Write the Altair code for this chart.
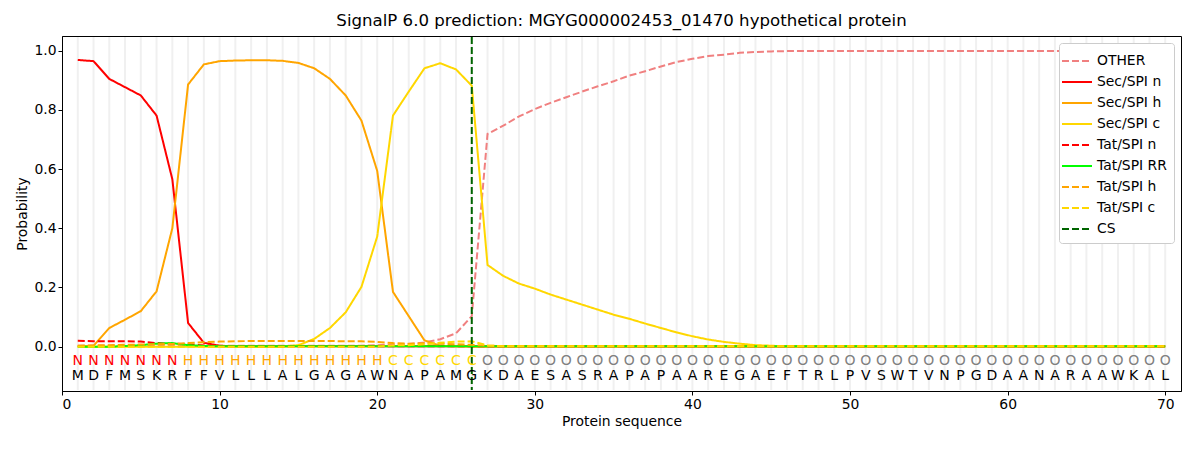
import altair as alt
import pandas as pd

residues = list("MDFMSKRFFVLLLALGAGAWNAPAMGKDAESASRAPAPAAREGAEFTRLPVSWTVNPGDAANARAAWKAL")
labels = list("NNNNNNN" + "HHHHHHHHHHHHH" + "CCCCCC" + "O" * 44)
positions = list(range(1, 71))

sec_n = [0.969, 0.965, 0.905, 0.877, 0.849, 0.781, 0.566, 0.080, 0.013, 0.003] + [0.001] * 60
sec_h = [0.001, 0.003, 0.063, 0.091, 0.120, 0.187, 0.400, 0.886, 0.954, 0.965,
         0.967, 0.968, 0.968, 0.966, 0.959, 0.941, 0.905, 0.849, 0.764, 0.594,
         0.185, 0.103, 0.021, 0.003, 0.001] + [0.0] * 45
sec_c = [0.0] * 14 + [0.005, 0.026, 0.063, 0.116, 0.202, 0.372,
         0.781, 0.862, 0.941, 0.958, 0.937, 0.882, 0.276, 0.239, 0.213, 0.196,
         0.176, 0.159, 0.142, 0.125, 0.108, 0.094, 0.078, 0.063, 0.048, 0.035,
         0.024, 0.016, 0.010, 0.005, 0.003] + [0.001] * 25
other = [0.003] * 19 + [0.005, 0.007, 0.009, 0.014, 0.025, 0.045, 0.103,
         0.719, 0.747, 0.778, 0.803, 0.824, 0.843, 0.862, 0.880, 0.897, 0.916,
         0.931, 0.947, 0.962, 0.973, 0.982, 0.987, 0.993, 0.996, 0.998] + [0.999] * 25
tat_n = [0.020, 0.018, 0.018, 0.018, 0.017, 0.012, 0.010, 0.008, 0.004, 0.002] + [0.001] * 60
tat_rr = [0.0, 0.0, 0.0, 0.002, 0.005, 0.010, 0.012, 0.005, 0.002] + [0.001] * 61
tat_h = [0.003, 0.004, 0.005, 0.006, 0.007, 0.008, 0.009, 0.012, 0.015, 0.017,
         0.018, 0.019, 0.019, 0.019, 0.019, 0.019, 0.019, 0.018, 0.018, 0.016,
         0.012, 0.010, 0.011, 0.010, 0.008, 0.006, 0.003] + [0.002] * 43
tat_c = [0.0] * 20 + [0.004, 0.005, 0.008, 0.013, 0.017, 0.018, 0.004] + [0.001] * 43

series_names = ["OTHER", "Sec/SPI n", "Sec/SPI h", "Sec/SPI c", "Tat/SPI n",
                "Tat/SPI RR", "Tat/SPI h", "Tat/SPI c", "CS"]
series_colors = ["#F08080", "#FF0000", "#FFA500", "#FFD700", "#FF0000",
                 "#00FF00", "#FFA500", "#FFD700", "#006400"]
series_dashes = [[7, 3], [1, 0], [1, 0], [1, 0], [7, 3], [1, 0], [7, 3], [7, 3], [7, 3]]
series_values = [other, sec_n, sec_h, sec_c, tat_n, tat_rr, tat_h, tat_c]
cs_position = 26

label_colors = {"N": "#FF0000", "H": "#FFA500", "C": "#FFD700", "O": "#808080"}

rows = []
for name, vals in zip(series_names[:8], series_values):
    for p, v in zip(positions, vals):
        rows.append({"pos": p, "prob": v, "series": name})
df = pd.DataFrame(rows)

seq_df = pd.DataFrame({
    "pos": positions,
    "res": residues,
    "lab": labels,
    "labcolor": [label_colors[l] for l in labels],
    "ylab": [-0.047] * 70,
    "yres": [-0.10] * 70,
})
cs_df = pd.DataFrame({"pos": [cs_position], "series": ["CS"]})

xscale = alt.Scale(domain=[0, 71], nice=False, zero=False)
yscale = alt.Scale(domain=[-0.15, 1.05], nice=False, zero=False)
color_scale = alt.Scale(domain=series_names, range=series_colors)
dash_scale = alt.Scale(domain=series_names, range=series_dashes)

legend = alt.Legend(title=None, orient="top-right", symbolType="M-1.5,0L1.5,0",
                    symbolStrokeWidth=2, symbolSize=400, labelFontSize=13.9,
                    labelFont="DejaVu Sans", labelColor="black",
                    strokeColor="#cccccc", fillColor="white",
                    padding=7, cornerRadius=3, rowPadding=3, offset=7, labelLimit=200,
                    labelOffset=9)

grid = alt.Chart(seq_df).mark_rule(color="#f0f0f0", strokeWidth=2).encode(
    x=alt.X("pos:Q", scale=xscale),
    y=alt.value(1),
    y2=alt.value(354),
)

lines = alt.Chart(df).mark_line(strokeWidth=2).encode(
    x=alt.X("pos:Q", scale=xscale,
            axis=alt.Axis(title="Protein sequence", values=list(range(0, 71, 10)))),
    y=alt.Y("prob:Q", scale=yscale,
            axis=alt.Axis(title="Probability", values=[0.0, 0.2, 0.4, 0.6, 0.8, 1.0], format=".1f")),
    color=alt.Color("series:N", scale=color_scale, sort=series_names, legend=legend),
    strokeDash=alt.StrokeDash("series:N", scale=dash_scale, sort=series_names, legend=legend),
    detail="series:N",
    order=alt.Order("pos:Q"),
)

cs_rule = alt.Chart(cs_df).mark_rule(strokeWidth=2).encode(
    x=alt.X("pos:Q", scale=xscale),
    y=alt.value(1),
    y2=alt.value(354),
    color=alt.Color("series:N", scale=color_scale, sort=series_names, legend=legend),
    strokeDash=alt.StrokeDash("series:N", scale=dash_scale, sort=series_names, legend=legend),
)

lab_text = alt.Chart(seq_df).mark_text(fontSize=14, font="DejaVu Sans", baseline="middle").encode(
    x=alt.X("pos:Q", scale=xscale),
    y=alt.Y("ylab:Q", scale=yscale),
    text="lab:N",
    color=alt.Color("labcolor:N", scale=None, legend=None),
)

res_text = alt.Chart(seq_df).mark_text(fontSize=14, font="DejaVu Sans", baseline="middle", color="black").encode(
    x=alt.X("pos:Q", scale=xscale),
    y=alt.Y("yres:Q", scale=yscale),
    text="res:N",
)

chart = alt.layer(grid, lines, cs_rule, lab_text, res_text).properties(
    width=1119,
    height=355,
    title=alt.Title("SignalP 6.0 prediction: MGYG000002453_01470 hypothetical protein",
                    fontSize=16.6, font="DejaVu Sans", fontWeight="normal", offset=6,
                    color="black"),
    padding={"left": 7, "top": 5, "right": 5, "bottom": 5},
).configure_view(
    stroke="black", strokeWidth=1
).configure_axis(
    domainColor="black", tickColor="black", tickSize=4, grid=False,
    labelFont="DejaVu Sans", titleFont="DejaVu Sans", labelFontSize=13.9,
    titleFontSize=13.9, titleFontWeight="normal", labelColor="black", titleColor="black",
)

chart.save("out.html", embed_options={"renderer": "svg", "actions": False})
